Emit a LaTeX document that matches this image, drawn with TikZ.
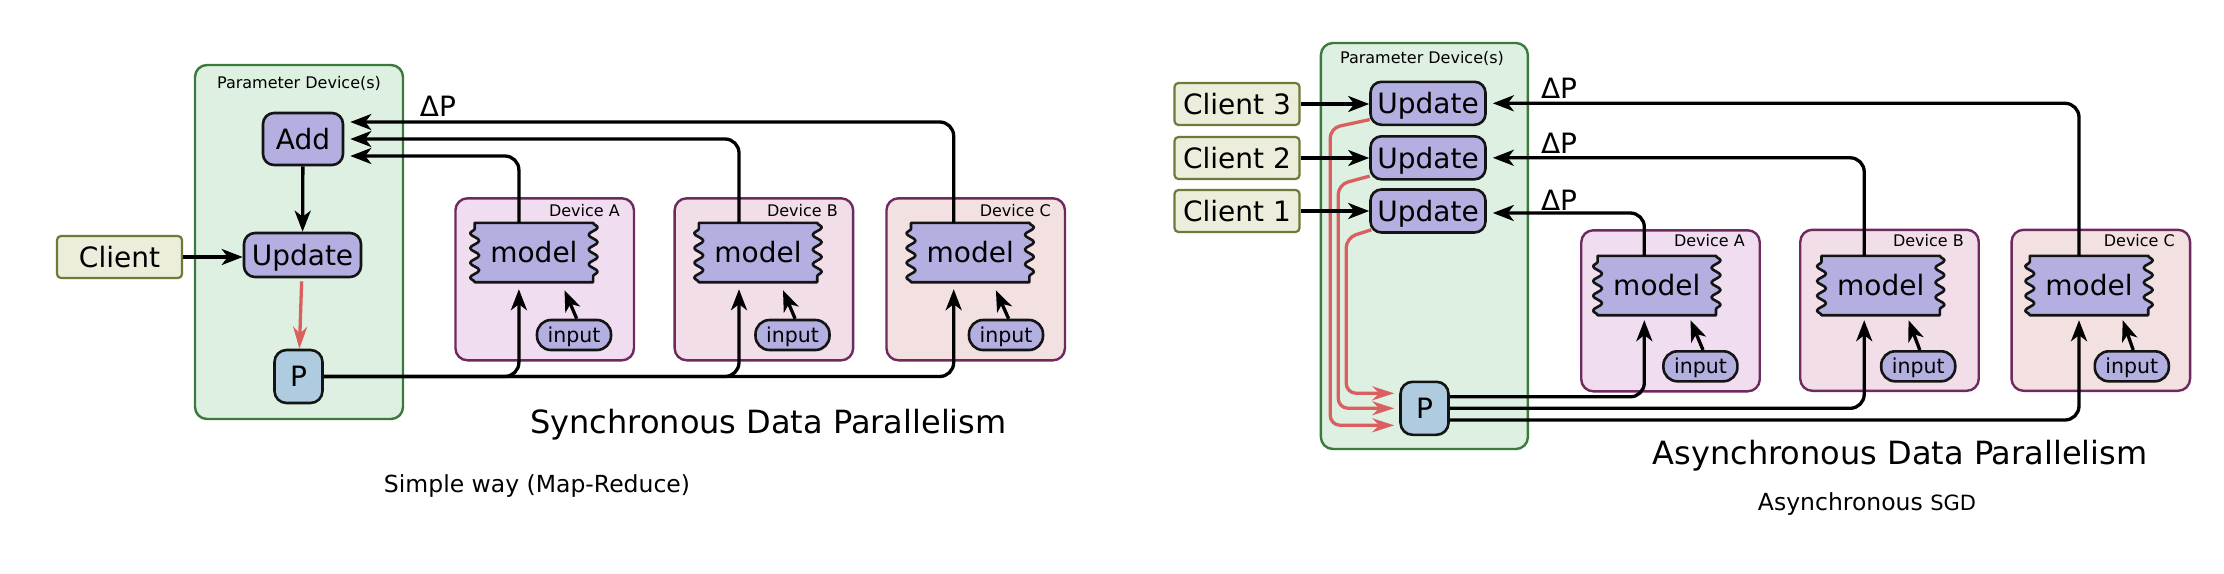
\documentclass[tikz,border=0pt]{standalone}
\usepackage{fontspec}
\setmainfont{DejaVu Sans}
\usetikzlibrary{arrows.meta,calc,decorations.pathmorphing}
\pgfdeclarelayer{bg}
\pgfdeclarelayer{mid}
\pgfsetlayers{bg,mid,main}
\definecolor{pgreen}{HTML}{DEF0E1}
\definecolor{pgreenb}{HTML}{3B7A3B}
\definecolor{lav}{HTML}{B3AFE0}
\definecolor{pblue}{HTML}{AECBE0}
\definecolor{clif}{HTML}{ECEEDB}
\definecolor{clib}{HTML}{6E7A3A}
\definecolor{devAc}{HTML}{F0DEF0}
\definecolor{devBc}{HTML}{F1DEE8}
\definecolor{devCc}{HTML}{F2E1E0}
\definecolor{devb}{HTML}{6E2A5E}
\definecolor{redc}{HTML}{DA5F5F}
\definecolor{ink}{HTML}{141414}
\newcommand{\modelat}[2]{%
  \node[modeltext] (#1) at #2 {model};
  \begin{pgfonlayer}{mid}
    \filldraw[modelshape] (#1.north west) -- (#1.north east)
      decorate{-- (#1.south east)} -- (#1.south west)
      decorate{-- (#1.north west)} -- cycle;
  \end{pgfonlayer}}
\begin{document}
\begin{tikzpicture}[x=1pt,y=-1pt,
  big/.style={font=\fontsize{28}{32}\selectfont, text height=20.4pt, text depth=0pt},
  box/.style={big, rectangle, rounded corners=11pt, draw=ink, line width=2.6pt, inner sep=0pt},
  opnode/.style={box, fill=lav, minimum width=117pt, minimum height=44pt},
  addnode/.style={box, fill=lav, minimum width=80pt, minimum height=52pt},
  pnode/.style={box, fill=pblue, minimum width=48pt, minimum height=53pt, rounded corners=12pt},
  client/.style={box, rounded corners=4pt, fill=clif, draw=clib, line width=2.2pt, minimum width=125pt, minimum height=42pt},
  inputnode/.style={box, fill=lav, rounded corners=14pt, minimum width=74pt, minimum height=30pt,
     font=\fontsize{20.5}{24}\selectfont, text height=15pt},
  modeltext/.style={big, rectangle, inner sep=0pt, minimum width=118pt, minimum height=59pt},
  modelshape/.style={draw=ink, fill=lav, line width=2.6pt, line join=round,
     decoration={snake, amplitude=4.5pt, segment length=14.75pt}},
  parbox/.style={rectangle, rounded corners=12pt, draw=pgreenb, fill=pgreen, line width=2.4pt},
  devbox/.style={rectangle, rounded corners=12pt, draw=devb, line width=2.4pt,
     minimum width=178.5pt, minimum height=162pt},
  small/.style={font=\fontsize{16}{19}\selectfont, inner sep=0pt},
  dlabel/.style={big, inner sep=0pt},
  title/.style={font=\fontsize{32}{38}\selectfont, text height=23.4pt, text depth=0pt, inner sep=0pt},
  subtitle/.style={font=\fontsize{23.5}{28}\selectfont, text height=17.2pt, text depth=0pt, inner sep=0pt},
  arr/.style={draw=black, line width=3.3pt, -{Stealth[length=21pt,width=16pt,inset=6pt]}},
  redarr/.style={draw=redc, line width=3.3pt, -{Stealth[length=22pt,width=14pt,inset=7pt]}}
]
\useasboundingbox (0,0) rectangle (2224,573);
\begin{pgfonlayer}{bg}
  \fill[white] (0,0) rectangle (2224,573);
  % left
  \node[parbox, minimum width=208pt, minimum height=354pt] (pdL) at (299,242) {};
  \node[devbox, fill=devAc] (dA) at (544.7,279.3) {};
  \node[devbox, fill=devBc] (dB) at (763.9,279.3) {};
  \node[devbox, fill=devCc] (dC) at (975.7,279.3) {};
  % right
  \node[parbox, minimum width=207pt, minimum height=406pt] (pdR) at (1424.4,246) {};
  \node[devbox, fill=devAc, minimum height=161pt] (dA2) at (1670.5,310.8) {};
  \node[devbox, fill=devBc, minimum height=161pt] (dB2) at (1889.5,310.3) {};
  \node[devbox, fill=devCc, minimum height=161pt] (dC2) at (2100.8,310.3) {};
\end{pgfonlayer}

% ---------------- left: synchronous ----------------
\node[small, anchor=base] (pdLl) at (299,88.8) {Parameter Device(s)};
\node[small, anchor=base east] (dAl) at (620,216) {Device A};
\node[small, anchor=base east] (dBl) at (838,216) {Device B};
\node[small, anchor=base east] (dCl) at (1051,216) {Device C};

\node[addnode] (add) at (303,139) {Add};
\node[opnode] (upL) at (302.5,255) {Update};
\node[pnode] (pL) at (298.5,376.5) {P};
\node[client] (cl) at (119.5,257) {Client};
\node[dlabel] (dpL) at (438,106) {ΔP};

\modelat{mA}{(533.9,252.5)}
\modelat{mB}{(758,252.5)}
\modelat{mC}{(970.2,252.5)}
\node[inputnode] (iA) at (574,335) {input};
\node[inputnode] (iB) at (792.5,335) {input};
\node[inputnode] (iC) at (1006,335) {input};

\draw[arr] (cl.east) -- (cl.east -| upL.west);
\draw[arr] (add) -- (upL);
\draw[redarr, shorten <=3pt] (upL) -- (pL);

\draw[arr, rounded corners=14pt, shorten >=6pt] ([xshift=-15pt]mA.north) |- ([yshift=-17pt]add.east);
\draw[arr, rounded corners=14pt, shorten >=6pt] ([xshift=-19pt]mB.north) |- (add.east);
\draw[arr, rounded corners=14pt, shorten >=6pt] ([xshift=-16.5pt]mC.north) |- ([yshift=17pt]add.east);

\draw[arr, rounded corners=14pt, shorten >=7pt] (pL.east) -| ([xshift=-15pt]mA.south);
\draw[arr, rounded corners=14pt, shorten >=7pt] (pL.east) -| ([xshift=-19pt]mB.south);
\draw[arr, rounded corners=14pt, shorten >=7pt] (pL.east) -| ([xshift=-16.5pt]mC.south);

\draw[arr] ($(iA.north)+(2.7,0)$) -- ($(mA.south)+(30.6,8)$);
\draw[arr] ($(iB.north)+(2.6,0)$) -- ($(mB.south)+(25,8)$);
\draw[arr] ($(iC.north)+(2.6,0)$) -- ($(mC.south)+(25.7,8)$);

\node[title] (t1) at (768.4,421.5) {Synchronous Data Parallelism};
\node[subtitle] (s1) at (537,483.5) {Simple way (Map-Reduce)};

% ---------------- right: asynchronous ----------------
\node[small, anchor=base] (pdRl) at (1422,63.8) {Parameter Device(s)};
\node[small, anchor=base east] (dAl2) at (1745,246.5) {Device A};
\node[small, anchor=base east] (dBl2) at (1964,246.5) {Device B};
\node[small, anchor=base east] (dCl2) at (2175,246.5) {Device C};

\node[opnode, minimum width=115pt, minimum height=43pt] (u3) at (1428,103.3) {Update};
\node[opnode, minimum width=115pt, minimum height=43pt] (u2) at (1428,157.8) {Update};
\node[opnode, minimum width=115pt, minimum height=43pt] (u1) at (1428,211) {Update};
\node[client] (c3) at (1237,104) {Client 3};
\node[client] (c2) at (1237,158) {Client 2};
\node[client] (c1) at (1237,211) {Client 1};
\node[pnode] (pR) at (1424.5,408.3) {P};
\node[dlabel] (dp3) at (1559,88) {ΔP};
\node[dlabel] (dp2) at (1559,143) {ΔP};
\node[dlabel] (dp1) at (1559,200) {ΔP};

\modelat{mA2}{(1656.8,285.5)}
\modelat{mB2}{(1880.7,285.5)}
\modelat{mC2}{(2089,285.5)}
\node[inputnode] (iA2) at (1700.4,366.3) {input};
\node[inputnode] (iB2) at (1918.2,366.3) {input};
\node[inputnode] (iC2) at (2131.8,366.3) {input};

\draw[redarr, rounded corners=10pt, shorten >=5pt] ($(u3.south west)+(0.5,-6.5)$) -- ($(u3.south west)+(-39,2)$) |- ([yshift=-17pt]pR.west);
\draw[redarr, rounded corners=10pt, shorten >=5pt] ($(u2.south west)+(0.5,-4.5)$) -- ($(u2.south west)+(-31,4)$) |- (pR.west);
\draw[redarr, rounded corners=10pt, shorten >=5pt] ($(u1.south west)+(2,-4)$) -- ($(u1.south west)+(-23,4)$) |- ([yshift=15pt]pR.west);

\draw[arr] (c3.east) -- (c3.east -| u3.west);
\draw[arr] (c2.east) -- (c2.east -| u2.west);
\draw[arr] (c1.east) -- (c1.east -| u1.west);

\draw[arr, rounded corners=14pt, shorten >=6pt] ([xshift=-10pt]mC2.north) |- (u3.east);
\draw[arr, rounded corners=14pt, shorten >=6pt] ([xshift=-16.5pt]mB2.north) |- (u2.east);
\draw[arr, rounded corners=14pt, shorten >=6pt] ([xshift=-12.5pt]mA2.north) |- ([yshift=-2pt]u1.east);

\draw[arr, rounded corners=14pt, shorten >=5pt] ([yshift=11.5pt]pR.east) -| ([xshift=-12.5pt]mA2.south);
\draw[arr, rounded corners=14pt, shorten >=5pt] (pR.east) -| ([xshift=-16.5pt]mB2.south);
\draw[arr, rounded corners=14pt, shorten >=5pt] ([yshift=-11.7pt]pR.east) -| ([xshift=-10pt]mC2.south);

\draw[arr] ($(iA2.north)+(2.6,0)$) -- ($(mA2.south)+(33.7,5)$);
\draw[arr] ($(iB2.north)+(1.6,0)$) -- ($(mB2.south)+(27.8,5)$);
\draw[arr] ($(iC2.north)+(1.4,0)$) -- ($(mC2.south)+(33.7,5)$);

\node[title] (t2) at (1900,453) {Asynchronous Data Parallelism};
\node[subtitle] (s2) at (1867,501.7) {Asynchronous {\fontsize{21}{25}\selectfont SGD}};
\end{tikzpicture}
\end{document}
